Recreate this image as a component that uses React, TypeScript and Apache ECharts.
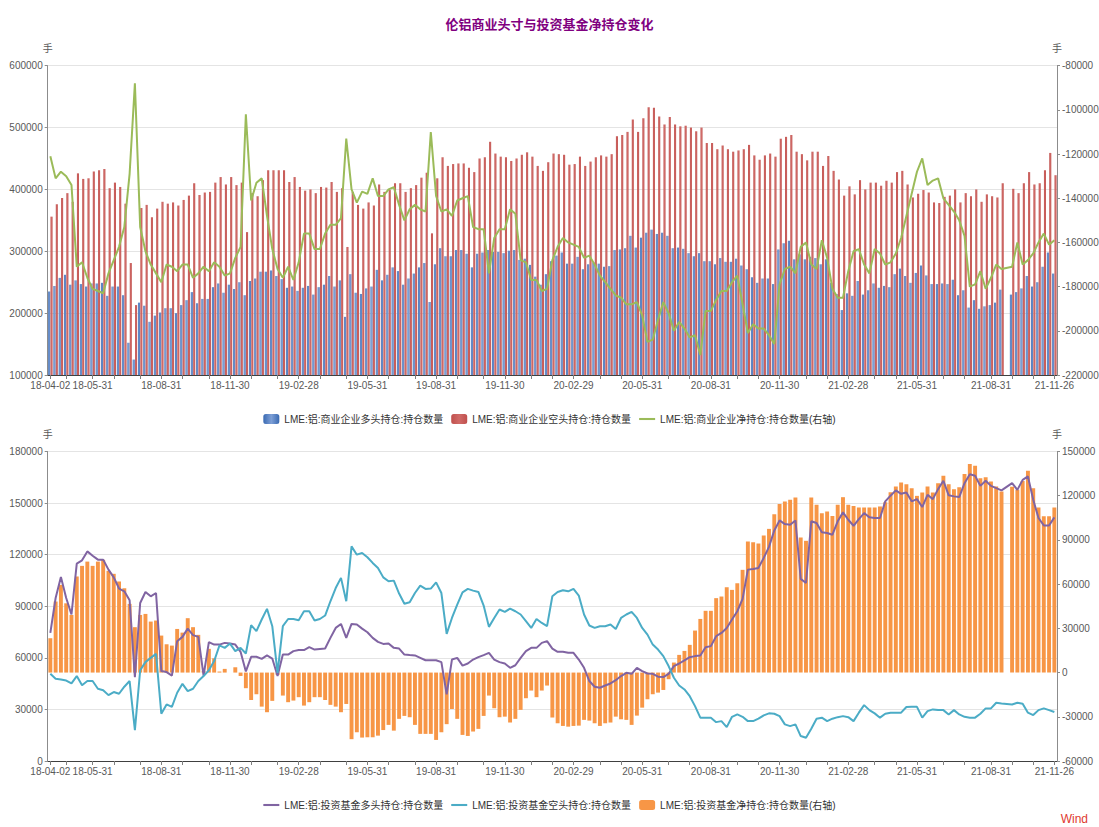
import React, { useEffect, useRef } from 'react';
import * as echarts from 'echarts';

// ---------- categories (weekly report dates) ----------
const FIRST_WEEK = Date.UTC(2018, 3, 6);
const WEEK_COUNT = 191;
const DAY = 86400000;
const weekDates: string[] = [];
for (let i = 0; i < WEEK_COUNT; i++) {
  weekDates.push(new Date(FIRST_WEEK + i * 7 * DAY).toISOString().slice(0, 10));
}

// ---------- tick labels ----------
const tickLabels = [
  '18-04-02', '18-05-31', '18-08-31', '18-11-30', '19-02-28', '19-05-31', '19-08-31', '19-11-30',
  '20-02-29', '20-05-31', '20-08-31', '20-11-30', '21-02-28', '21-05-31', '21-08-31', '21-11-26',
];

// ---------- series: commercial (top) ----------
const commLong = [
  235000, 244000, 257000, 262000, 246000, 253000, 247000, 243000, 248000, 248000,
  249000, 228000, 243000, 243000, 229000, 152000, 125000, 217000, 212000, 186000,
  196000, 201000, 208000, 208000, 200000, 213000, 221000, 234000, 216000, 223000,
  223000, 242000, 248000, 233000, 246000, 239000, 250000, 229000, 252000, 256000,
  267000, 267000, 269000, 260000, 255000, 241000, 243000, 236000, 241000, 244000,
  230000, 242000, 246000, 260000, 243000, 253000, 194000, 263000, 233000, 231000,
  240000, 243000, 270000, 253000, 262000, 274000, 268000, 246000, 256000, 264000,
  274000, 281000, 218000, 279000, 305000, 292000, 292000, 302000, 302000, 296000,
  274000, 296000, 298000, 302000, 299000, 299000, 297000, 301000, 302000, 286000,
  288000, 278000, 259000, 246000, 263000, 284000, 293000, 298000, 280000, 280000,
  291000, 271000, 279000, 282000, 280000, 275000, 276000, 302000, 303000, 305000,
  325000, 306000, 322000, 330000, 335000, 328000, 330000, 325000, 305000, 306000,
  304000, 297000, 292000, 297000, 284000, 284000, 279000, 289000, 283000, 283000,
  288000, 277000, 271000, 258000, 249000, 256000, 256000, 247000, 303000, 313000,
  317000, 287000, 295000, 287000, 291000, 289000, 279000, 287000, 249000, 231000,
  205000, 232000, 228000, 252000, 230000, 237000, 248000, 241000, 244000, 242000,
  263000, 272000, 260000, 249000, 265000, 277000, 261000, 247000, 247000, 248000,
  247000, 254000, 229000, 237000, 209000, 221000, 207000, 211000, 213000, 217000,
  238000, null, 230000, 234000, 240000, 260000, 243000, 250000, 275000, 298000,
  264000,
];

const commShort = [
  356000, 376000, 386000, 394000, 380000, 426000, 417000, 418000, 429000, 431000,
  433000, 402000, 411000, 404000, 377000, 281000, 213000, 370000, 375000, 355000,
  369000, 380000, 377000, 379000, 374000, 383000, 390000, 410000, 391000, 395000,
  396000, 411000, 420000, 408000, 420000, 407000, 411000, 331000, 394000, 389000,
  415000, 431000, 431000, 431000, 431000, 412000, 420000, 404000, 398000, 400000,
  394000, 404000, 403000, 412000, 396000, 402000, 307000, 396000, 375000, 369000,
  379000, 374000, 408000, 396000, 399000, 410000, 410000, 396000, 402000, 407000,
  419000, 427000, 329000, 418000, 452000, 438000, 441000, 442000, 442000, 435000,
  428000, 450000, 452000, 477000, 458000, 453000, 452000, 446000, 450000, 456000,
  460000, 453000, 438000, 430000, 444000, 458000, 457000, 456000, 440000, 441000,
  453000, 438000, 445000, 452000, 455000, 453000, 457000, 486000, 488000, 493000,
  513000, 493000, 515000, 533000, 532000, 518000, 505000, 517000, 505000, 502000,
  503000, 500000, 494000, 500000, 475000, 475000, 465000, 471000, 465000, 461000,
  463000, 465000, 472000, 455000, 448000, 455000, 458000, 453000, 482000, 485000,
  488000, 461000, 457000, 447000, 461000, 461000, 438000, 454000, 430000, 416000,
  390000, 405000, 392000, 415000, 400000, 411000, 411000, 406000, 414000, 411000,
  428000, 430000, 408000, 387000, 393000, 399000, 395000, 379000, 378000, 388000,
  390000, 400000, 379000, 394000, 389000, 400000, 380000, 392000, 389000, 387000,
  410000, null, 401000, 394000, 410000, 428000, 408000, 410000, 431000, 459000,
  423000,
];

const commNet = [
  -121000, -131000, -128000, -130000, -134000, -171000, -169000, -176000, -181000, -182000,
  -183000, -174000, -168000, -162000, -153000, -129000, -88000, -153000, -164000, -170000,
  -174000, -178000, -170000, -171000, -173000, -170000, -170000, -176000, -174000, -171000,
  -173000, -169000, -171000, -175000, -174000, -167000, -162000, -102000, -141000, -133000,
  -131000, -148000, -163000, -172000, -176000, -171000, -177000, -169000, -156000, -156000,
  -163000, -163000, -156000, -152000, -152000, -149000, -113000, -136000, -142000, -137000,
  -138000, -131000, -139000, -139000, -136000, -135000, -143000, -150000, -145000, -143000,
  -145000, -146000, -110000, -139000, -146000, -145000, -148000, -141000, -140000, -139000,
  -153000, -154000, -154000, -174000, -158000, -154000, -154000, -145000, -147000, -168000,
  -169000, -177000, -177000, -182000, -181000, -168000, -162000, -158000, -160000, -161000,
  -162000, -167000, -166000, -170000, -175000, -178000, -181000, -184000, -185000, -188000,
  -188000, -187000, -193000, -205000, -204000, -195000, -187000, -192000, -200000, -196000,
  -199000, -203000, -202000, -211000, -191000, -191000, -186000, -182000, -182000, -178000,
  -175000, -188000, -201000, -197000, -199000, -199000, -202000, -206000, -179000, -172000,
  -171000, -174000, -162000, -160000, -170000, -172000, -159000, -167000, -181000, -185000,
  -185000, -173000, -164000, -163000, -170000, -174000, -163000, -165000, -170000, -169000,
  -165000, -158000, -148000, -138000, -128000, -122000, -134000, -132000, -131000, -140000,
  -143000, -146000, -150000, -157000, -180000, -179000, -173000, -181000, -176000, -170000,
  -172000, null, -171000, -160000, -170000, -168000, -165000, -160000, -156000, -161000,
  -159000,
];

// ---------- series: investment funds (bottom) ----------
const fundLong = [
  74500, 94800, 107000, 94800, 85200, 114800, 116700, 121900, 119400, 117100,
  117100, 111300, 106800, 100300, 98700, 93500, 48800, 91900, 98300, 95800,
  97700, 52300, 51700, 49700, 69700, 72200, 77000, 73200, 72200, 49700,
  69100, 67700, 67700, 68700, 68300, 67700, 63500, 52100, 60600, 60600,
  59400, 61400, 59600, 49400, 61900, 61900, 63900, 64500, 64500, 66200,
  64800, 65200, 65400, 71600, 77400, 79700, 71600, 79700, 79400, 77000,
  74900, 71600, 69300, 68100, 68300, 65800, 65400, 61900, 61600, 61400,
  60000, 58600, 58600, 58600, 57500, 38700, 59000, 60000, 55500, 56700,
  59000, 60400, 61600, 62900, 59000, 57500, 56700, 54200, 55700, 60000,
  63900, 65800, 65800, 68700, 69700, 65400, 63500, 63500, 62900, 62900,
  59000, 54200, 46500, 43200, 42600, 43900, 45100, 47000, 49400, 51300,
  50700, 54200, 52300, 50900, 50700, 49000, 48800, 50700, 55200, 56700,
  58500, 60400, 61000, 61400, 66200, 66800, 72600, 74500, 77400, 82300,
  87100, 94300, 111300, 111700, 112300, 118100, 124500, 134100, 139900, 137800,
  137400, 139900, 105900, 103500, 139400, 138400, 133000, 132600, 131600, 139400,
  144600, 140300, 136800, 140700, 144200, 141700, 141300, 141300, 151000, 154300,
  157400, 155400, 156200, 151000, 152300, 147700, 154800, 152300, 158100, 163000,
  154500, 153900, 153500, 161600, 166800, 165900, 160000, 163000, 160000, 158700,
  157400, null, 161600, 157700, 163500, 165500, 151900, 141300, 137000, 137000,
  141700,
];

const fundShort = [
  50700, 47800, 47400, 46800, 45100, 49400, 44100, 46500, 46500, 42000,
  41200, 38300, 40100, 39100, 43200, 46500, 18000, 52800, 57500, 60000,
  62300, 27500, 32900, 31500, 39700, 44900, 40600, 42000, 46500, 49400,
  52800, 58100, 67200, 65800, 68300, 63900, 65800, 62500, 79000, 75500,
  82300, 88500, 78400, 51300, 78400, 82600, 82600, 81900, 87100, 87100,
  81700, 82600, 84600, 92900, 100600, 106500, 92900, 124800, 120000, 121000,
  118500, 115200, 112300, 106800, 104500, 104900, 97400, 91500, 92300, 97700,
  102000, 100100, 100300, 103900, 97700, 73900, 83200, 91000, 98100, 100100,
  99100, 98300, 90400, 78000, 83200, 88100, 86700, 88600, 87100, 85200,
  81300, 77400, 82600, 80300, 78400, 95800, 98300, 99300, 98700, 100100,
  96200, 85200, 78800, 77400, 78400, 78400, 79400, 76800, 83200, 85200,
  86700, 83200, 77400, 73500, 67700, 64800, 61000, 55200, 48400, 43900,
  41600, 37700, 31900, 25200, 25200, 25200, 22600, 23200, 19700, 25700,
  27100, 25700, 23200, 23200, 24600, 26500, 27700, 27500, 26100, 21300,
  20300, 21300, 14500, 13500, 18800, 24600, 25200, 23200, 24600, 25500,
  26100, 25500, 23200, 28100, 32500, 29600, 27700, 25200, 27500, 28100,
  28100, 28100, 31400, 31500, 31500, 25200, 29000, 30000, 29600, 29600,
  27100, 29600, 27100, 25700, 25200, 25200, 27500, 30600, 30600, 33900,
  33500, null, 32900, 33900, 33300, 28100, 26700, 29600, 30600, 29600,
  28500,
];

const fundNet = [
  23300, 48200, 59500, 47000, 39100, 65200, 72400, 75300, 72400, 75300,
  76500, 69000, 67000, 61800, 57200, 46600, 30800, 39100, 39800, 34600,
  35300, 25100, 19200, 18300, 29600, 27100, 36900, 30800, 25600, 1000,
  16100, 9700, 700, 2500, 0, 3600, -2300, -10600, -18600, -14700,
  -23100, -26900, -19200, -1600, -15600, -20100, -19000, -16700, -22400, -20100,
  -16700, -16700, -18600, -21900, -23100, -26900, -21300, -45200, -40500, -44100,
  -43900, -43900, -42800, -39000, -35500, -39400, -31400, -29400, -30300, -35500,
  -41600, -41600, -41600, -45700, -40500, -35000, -24700, -31400, -42300, -43000,
  -40000, -38200, -29400, -15600, -24200, -30300, -29900, -33900, -31400, -25300,
  -17400, -12200, -16700, -12200, -8800, -30500, -34400, -36200, -36700, -36200,
  -36000, -32100, -32600, -34400, -36200, -34400, -33900, -29900, -31700, -32100,
  -35500, -29200, -23800, -18100, -14700, -13600, -11800, -4500, 6800, 12000,
  14700, 18800, 28500, 36400, 41900, 41900, 50500, 51600, 57900, 56100,
  60600, 69700, 88900, 88500, 87600, 93000, 97500, 107500, 114300, 116100,
  117200, 118800, 91600, 89400, 118800, 113800, 108100, 109300, 106300, 113800,
  119000, 113800, 113100, 112000, 112000, 112000, 112000, 112700, 115600, 122400,
  126200, 129000, 127800, 125100, 119900, 122200, 126200, 122200, 128500, 133500,
  127800, 124400, 125800, 134800, 141600, 140300, 131900, 132600, 129600, 126200,
  122800, null, 126000, 124000, 130000, 137000, 125000, 112000, 106000, 106000,
  112000,
];

const seriesNames = {
  commLong: 'LME:铝:商业企业多头持仓:持仓数量',
  commShort: 'LME:铝:商业企业空头持仓:持仓数量',
  commNet: 'LME:铝:商业企业净持仓:持仓数量(右轴)',
  fundLong: 'LME:铝:投资基金多头持仓:持仓数量',
  fundShort: 'LME:铝:投资基金空头持仓:持仓数量',
  fundNet: 'LME:铝:投资基金净持仓:持仓数量(右轴)',
};

// ---------- axis tick/label placement ----------
function nearestIndex(t: number): number {
  const i = Math.round((t - FIRST_WEEK) / (7 * DAY));
  return Math.max(0, Math.min(WEEK_COUNT - 1, i));
}
const labelMap = new Map<number, string>();
tickLabels.forEach((lab, k) => {
  if (k === 0) { labelMap.set(0, lab); return; }
  if (k === tickLabels.length - 1) { labelMap.set(WEEK_COUNT - 1, lab); return; }
  const [yy, mm, dd] = lab.split('-').map(Number);
  labelMap.set(nearestIndex(Date.UTC(2000 + yy, mm - 1, dd)), lab);
});
const tickSet = new Set<number>([0, WEEK_COUNT - 1]);
for (let y = 2018, m = 3; y < 2021 || (y === 2021 && m <= 9); ) {
  tickSet.add(nearestIndex(Date.UTC(y, m + 1, 0)));
  m++;
  if (m > 11) { m = 0; y++; }
}

const FONT = "'Liberation Sans', 'Noto Sans CJK SC', sans-serif";
const labelColor = '#595959';
const LINE_ICON = 'path://M0,0 L20,0 L20,2.6 L0,2.6 Z';

function makeXAxis(gridIndex: number) {
  return {
    type: 'category',
    gridIndex,
    data: weekDates,
    boundaryGap: true,
    axisLine: { show: true, lineStyle: { color: '#404040', width: 1 } },
    axisTick: {
      show: true,
      alignWithLabel: true,
      interval: (i: number) => tickSet.has(i),
      length: 4,
      lineStyle: { color: '#7f7f7f' },
    },
    axisLabel: {
      interval: (i: number) => labelMap.has(i),
      formatter: (_v: string, i: number) => labelMap.get(i) || '',
      margin: 5,
      color: labelColor,
      fontSize: 10,
      fontFamily: FONT,
    },
    splitLine: { show: false },
  };
}

function makeYAxis(gridIndex: number, position: string, min: number, max: number, interval: number, split: boolean) {
  return {
    type: 'value',
    gridIndex,
    position,
    min,
    max,
    interval,
    name: '手',
    nameLocation: 'end',
    nameGap: 12,
    nameTextStyle: { color: labelColor, fontSize: 10, fontFamily: FONT },
    axisLine: { show: true, lineStyle: { color: '#8c8c8c' } },
    axisTick: { show: true, length: 3, lineStyle: { color: '#8c8c8c' } },
    axisLabel: {
      color: labelColor,
      fontSize: 10,
      fontFamily: FONT,
      margin: 5,
      formatter: (v: number) => String(v),
    },
    splitLine: { show: split, lineStyle: { color: '#e4e4e4' } },
  };
}

export default function App() {
  const ref = useRef<HTMLDivElement>(null);
  useEffect(() => {
    if (!ref.current) return;
    const chart = echarts.init(ref.current, null, { renderer: 'svg' });
    const blue = new echarts.graphic.LinearGradient(0, 0, 1, 0, [
      { offset: 0, color: '#3a6ab2' },
      { offset: 0.5, color: '#7d9fd6' },
      { offset: 1, color: '#3a6ab2' },
    ]);
    const red = new echarts.graphic.LinearGradient(0, 0, 1, 0, [
      { offset: 0, color: '#c0504d' },
      { offset: 0.5, color: '#d06a67' },
      { offset: 1, color: '#c0504d' },
    ]);
    const legendText = { fontSize: 10, color: '#333333', fontFamily: FONT };
    const option: any = {
      animation: false,
      backgroundColor: '#ffffff',
      title: {
        text: '伦铝商业头寸与投资基金净持仓变化',
        left: 'center',
        top: 13,
        textStyle: { color: '#800080', fontSize: 13, fontWeight: 'bold', fontFamily: FONT },
      },
      legend: [
        {
          data: [
            { name: seriesNames.commLong, icon: 'roundRect' },
            { name: seriesNames.commShort, icon: 'roundRect' },
            { name: seriesNames.commNet, icon: LINE_ICON },
          ],
          top: 409,
          left: 'center',
          itemWidth: 16,
          itemHeight: 10,
          itemGap: 8,
          symbolKeepAspect: true,
          textStyle: legendText,
        },
        {
          data: [
            { name: seriesNames.fundLong, icon: LINE_ICON },
            { name: seriesNames.fundShort, icon: LINE_ICON },
            { name: seriesNames.fundNet, icon: 'roundRect' },
          ],
          top: 795,
          left: 'center',
          itemWidth: 16,
          itemHeight: 10,
          itemGap: 8,
          symbolKeepAspect: true,
          textStyle: legendText,
        },
      ],
      grid: [
        { left: 47.7, right: 42, top: 65.7, height: 309.3, outerBoundsMode: 'none', containLabel: false },
        { left: 47.7, right: 42, top: 451.5, height: 309.5, outerBoundsMode: 'none', containLabel: false },
      ],
      xAxis: [makeXAxis(0), makeXAxis(1)],
      yAxis: [
        makeYAxis(0, 'left', 100000, 600000, 100000, true),
        makeYAxis(0, 'right', -220000, -80000, 20000, false),
        makeYAxis(1, 'left', 0, 180000, 30000, true),
        makeYAxis(1, 'right', -60000, 150000, 30000, false),
      ],
      series: [
        {
          name: seriesNames.commLong,
          type: 'bar',
          xAxisIndex: 0,
          yAxisIndex: 0,
          data: commLong,
          barGap: '15%',
          barCategoryGap: '16%',
          itemStyle: { color: blue },
        },
        {
          name: seriesNames.commShort,
          type: 'bar',
          xAxisIndex: 0,
          yAxisIndex: 0,
          data: commShort,
          barGap: '15%',
          barCategoryGap: '16%',
          itemStyle: { color: red },
        },
        {
          name: seriesNames.commNet,
          type: 'line',
          xAxisIndex: 0,
          yAxisIndex: 1,
          data: commNet,
          symbol: 'none',
          showSymbol: false,
          connectNulls: true,
          lineStyle: { color: '#9bbb59', width: 2 },
          itemStyle: { color: '#9bbb59' },
          z: 5,
        },
        {
          name: seriesNames.fundNet,
          type: 'bar',
          xAxisIndex: 1,
          yAxisIndex: 3,
          data: fundNet,
          barWidth: '74%',
          itemStyle: { color: '#f79646' },
        },
        {
          name: seriesNames.fundLong,
          type: 'line',
          xAxisIndex: 1,
          yAxisIndex: 2,
          data: fundLong,
          symbol: 'none',
          showSymbol: false,
          connectNulls: true,
          lineStyle: { color: '#8064a2', width: 2 },
          itemStyle: { color: '#8064a2' },
          z: 5,
        },
        {
          name: seriesNames.fundShort,
          type: 'line',
          xAxisIndex: 1,
          yAxisIndex: 2,
          data: fundShort,
          symbol: 'none',
          showSymbol: false,
          connectNulls: true,
          lineStyle: { color: '#4bacc6', width: 2 },
          itemStyle: { color: '#4bacc6' },
          z: 5,
        },
      ],
      graphic: [
        {
          type: 'text',
          right: 11,
          top: 813,
          style: { text: 'Wind', fill: '#e0392f', fontSize: 12, fontFamily: FONT },
        },
      ],
    };
    chart.setOption(option);
    return () => chart.dispose();
  }, []);
  return (
    <div
      ref={ref}
      style={{ position: 'fixed', left: 0, top: 0, width: 1099, height: 827, background: '#fff' }}
    />
  );
}
